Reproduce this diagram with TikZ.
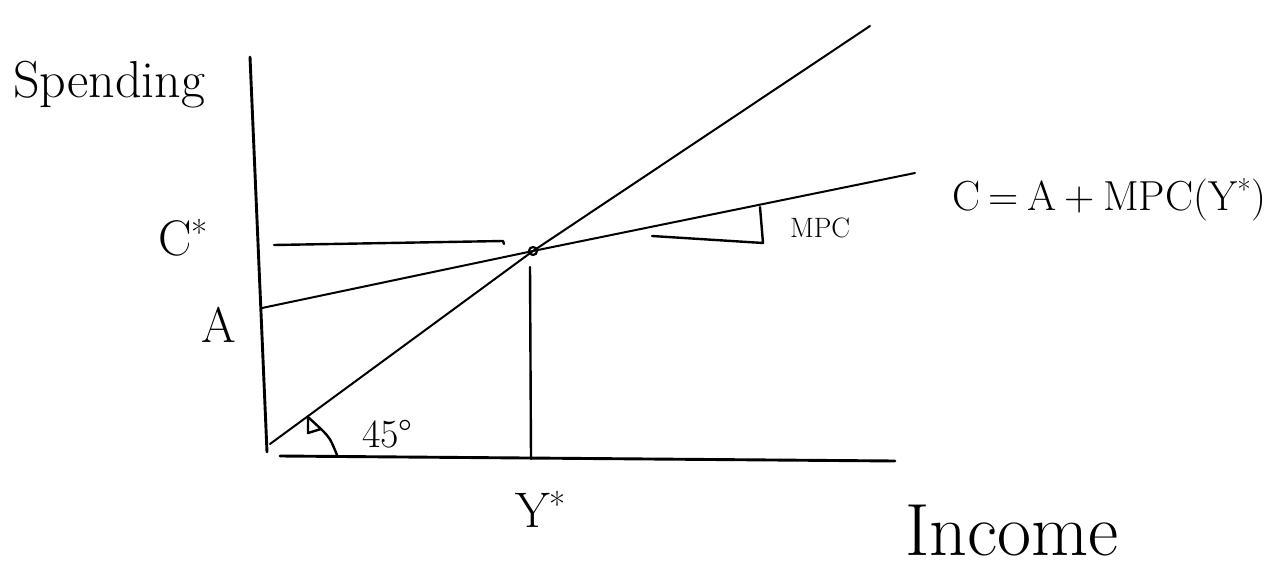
\documentclass[tikz,border=0pt]{standalone}
\usepackage{fontspec}
\newcommand{\mystar}{\textsuperscript{*}}
\newcommand{\myspc}{\hspace{0.2em}}
\begin{document}
\begin{tikzpicture}[x=1pt,y=-1pt,
  axisline/.style={line width=2.9pt, line cap=round, line join=round},
  ruled/.style={line width=2.0pt, line cap=round, line join=round},
  guide/.style={line width=2.4pt, line cap=round, line join=round},
  lbl/.style={inner sep=0pt, outer sep=0pt, text=black},
  big/.style={lbl, font=\fontsize{50}{58}\selectfont},
  mid/.style={lbl, font=\fontsize{40}{48}\selectfont},
  small/.style={lbl, font=\fontsize{28}{34}\selectfont}]
\useasboundingbox (0,0) rectangle (1281,572);
% key points
\coordinate (ytop) at (250,57);
\coordinate (ybot) at (267,452);
\coordinate (xl) at (280,456);
\coordinate (xr) at (895,461);
\coordinate (E) at (533,251);
\coordinate (l45a) at (270,444);
\coordinate (l45b) at (870,26);
\coordinate (ca) at (262,308);
\coordinate (cb) at (915,173);
\coordinate (csl) at (274,245);
\coordinate (csr) at (503,241);
\coordinate (dropt) at (530,267);
\coordinate (dropb) at (531,459);
\coordinate (ta) at (652,236);
\coordinate (tb) at (763,243);
\coordinate (tc) at (760,207);
\coordinate (m1) at (308,417);
\coordinate (m2) at (308,433);
\coordinate (m3) at (321,429);
\coordinate (m4) at (337,455);
% axes
\draw[axisline] (ytop) -- (ybot);
\draw[axisline] (xl) -- (xr);
% 45 degree line
\draw[ruled] (l45a) -- (E) -- (l45b);
% consumption line
\draw[ruled] (ca) -- (E) -- (cb);
% guides
\draw[guide] (csl) -- (csr) -- ++(1,3);
\draw[guide] (dropt) -- (dropb);
% equilibrium point
\node[draw, circle, line width=2.2pt, minimum size=8pt, inner sep=0pt] (Ept) at (E) {};
% MPC triangle
\draw[guide] (ta) -- (tb) -- (tc);
% 45 degree marker
\draw[guide] (m1) -- (m2) -- (m3) -- cycle;
\draw[guide] (m3) .. controls (330,438) .. (m4);
% labels
\node[lbl, font=\fontsize{52}{60}\selectfont, anchor=base west] (spend) at (13,98) {Spending};
\node[big, anchor=base west] (cstar) at (158,255) {C\mystar};
\node[big, anchor=base] (alab) at (219,342) {A};
\node[mid, anchor=base west] (deg) at (362,447) {45°};
\node[big, anchor=base west] (ystar) at (515,527) {Y\mystar};
\node[small, anchor=base west] (mpc) at (790,237) {MPC};
\node[lbl, font=\fontsize{42}{50}\selectfont, anchor=base west] (eq) at (952,210) {C\myspc=\myspc A\myspc+\myspc MPC(Y\mystar)};
\node[lbl, font=\fontsize{74}{82}\selectfont, anchor=base west] (inc) at (905,555) {Income};
\end{tikzpicture}
\end{document}
